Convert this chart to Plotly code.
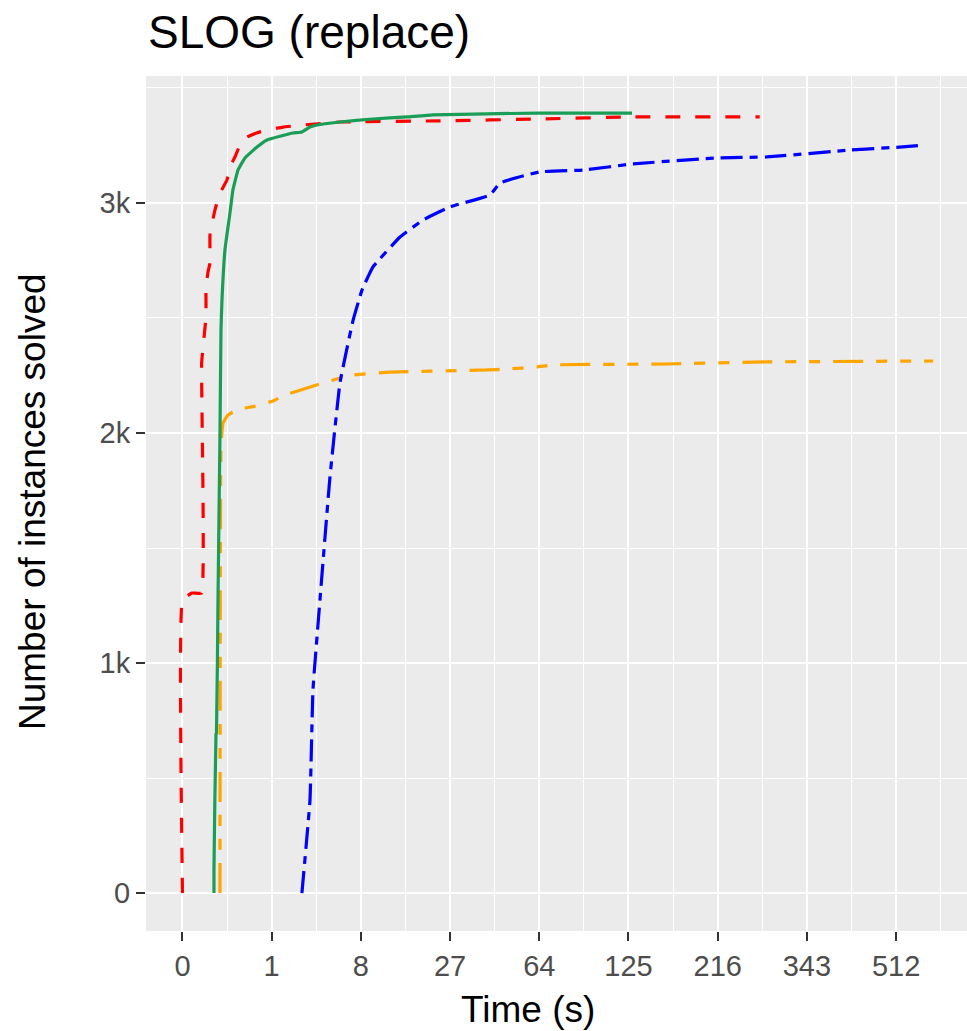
import numpy as np
import plotly.graph_objects as go

# ---- data (time in seconds, instances solved) ----
red_t = [0, 0, 0.0012, 0.0099, 0.0099, 0.0183, 0.0183, 0.0234, 0.0293, 0.0293, 0.0483, 0.0742,
         0.124, 0.151, 0.204, 0.268, 0.378, 0.656, 1.045, 1.43, 2.47, 5.5, 24.1, 64.1, 126, 271]
red_y = [0, 1274, 1304, 1304, 2304, 2504, 2635, 2700, 2739, 2861, 2970, 3043,
         3100, 3157, 3200, 3252, 3287, 3309, 3322, 3330, 3339, 3352, 3357, 3365, 3374, 3374]

green_t = [0.044, 0.044, 0.053, 0.0553, 0.063, 0.0743, 0.0804, 0.0868, 0.108, 0.151, 0.181, 0.241,
           0.344, 0.583, 0.85, 1.90, 2.40, 2.92, 3.43, 5.5, 9.74, 15.9, 22.1, 64, 128]
green_y = [0, 100, 690, 696, 1274, 1996, 2448, 2578, 2796, 2957, 3057, 3143,
           3196, 3243, 3274, 3304, 3309, 3330, 3339, 3352, 3365, 3374, 3383, 3391, 3391]

orange_t = [0.0742, 0.0760, 0.0804, 0.0936, 0.133, 0.228, 0.537, 1.045, 1.52, 2.72, 5.5, 7.0,
            12.6, 39.8, 48.1, 62.8, 71.7, 160, 281, 596]
orange_y = [0, 1274, 1948, 2043, 2078, 2100, 2117, 2139, 2165, 2196, 2239, 2252,
            2265, 2274, 2278, 2287, 2296, 2300, 2309, 2313]

blue_t = [2.40, 2.92, 3.13, 3.66, 4.52, 5.5, 7.0, 8.16, 9.74, 14.5, 19.6, 27.0,
          41.0, 45.1, 64.1, 90.5, 129, 215, 281, 419, 520, 577]
blue_y = [0, 404, 883, 1274, 1809, 2217, 2491, 2622, 2722, 2852, 2926, 2983,
          3035, 3087, 3135, 3143, 3170, 3196, 3200, 3230, 3243, 3252]

x_tick_labels = ["0", "1", "8", "27", "64", "125", "216", "343", "512"]
y_tick_vals = [0, 1000, 2000, 3000]
y_tick_labels = ["0", "1k", "2k", "3k"]

FONT = "Liberation Sans, Arial, Helvetica, sans-serif"

series = [
    (red_t, red_y, "#FF0000", "15px,15px"),
    (orange_t, orange_y, "#FFA500", "30px,13px,11px,13px,11px,13px"),
    (blue_t, blue_y, "#0000FF", "22px,7px,8px,7px"),
    (green_t, green_y, "#1A9E57", "solid"),
]

fig = go.Figure()
for t, y, color, dash in series:
    fig.add_trace(go.Scatter(
        x=np.cbrt(np.array(t, dtype=float)), y=y, mode="lines",
        line=dict(color=color, width=3.2, dash=dash, shape="spline", smoothing=0.3),
        showlegend=False, hoverinfo="skip",
    ))

W, H = 967, 1031
ML, MR, MT, MB = 146, 0, 76, 100
PW, PH = W - ML - MR, H - MT - MB

fig.update_layout(
    width=W, height=H, autosize=False,
    margin=dict(l=ML, r=MR, t=MT, b=MB, pad=0),
    paper_bgcolor="white", plot_bgcolor="#EBEBEB",
    font=dict(family=FONT, color="#4D4D4D"),
    xaxis=dict(
        range=[-0.409, 8.795], tickmode="array",
        tickvals=list(range(len(x_tick_labels))), ticktext=x_tick_labels,
        showgrid=True, gridcolor="white", gridwidth=2.4, zeroline=False, showline=False,
        ticks="outside", ticklen=9, tickwidth=2, tickcolor="#333333",
        tickfont=dict(size=29, color="#4D4D4D", family=FONT),
        minor=dict(tickmode="array", tickvals=[i + 0.5 for i in range(-1, 9)],
                   showgrid=True, gridcolor="white", gridwidth=1.2, ticks=""),
    ),
    yaxis=dict(
        range=[-165, 3552], tickmode="array",
        tickvals=y_tick_vals, ticktext=y_tick_labels,
        showgrid=True, gridcolor="white", gridwidth=2.4, zeroline=False, showline=False,
        ticks="outside", ticklen=9, tickwidth=2, tickcolor="#333333",
        tickfont=dict(size=29, color="#4D4D4D", family=FONT),
        minor=dict(tickmode="array", tickvals=[500, 1500, 2500, 3500],
                   showgrid=True, gridcolor="white", gridwidth=1.2, ticks=""),
    ),
    annotations=[
        dict(text="SLOG (replace)", xref="paper", yref="paper",
             x=(146 - ML) / PW, y=1 + (MT - 32) / PH, xanchor="left", yanchor="middle",
             showarrow=False, font=dict(size=46, color="black", family=FONT)),
        dict(text="Time (s)", xref="paper", yref="paper",
             x=(528 - ML) / PW, y=-(1009 - (H - MB)) / PH, xanchor="center", yanchor="middle",
             showarrow=False, font=dict(size=37, color="black", family=FONT)),
        dict(text="Number of instances solved", xref="paper", yref="paper",
             x=(32 - ML) / PW, y=1 - (502 - MT) / PH, xanchor="center", yanchor="middle",
             textangle=-90, showarrow=False, font=dict(size=37, color="black", family=FONT)),
    ],
)

fig.write_html(
    "out.html",
    config={"displayModeBar": False},
    post_script="document.body.style.margin='0';document.body.style.overflow='hidden';",
)
